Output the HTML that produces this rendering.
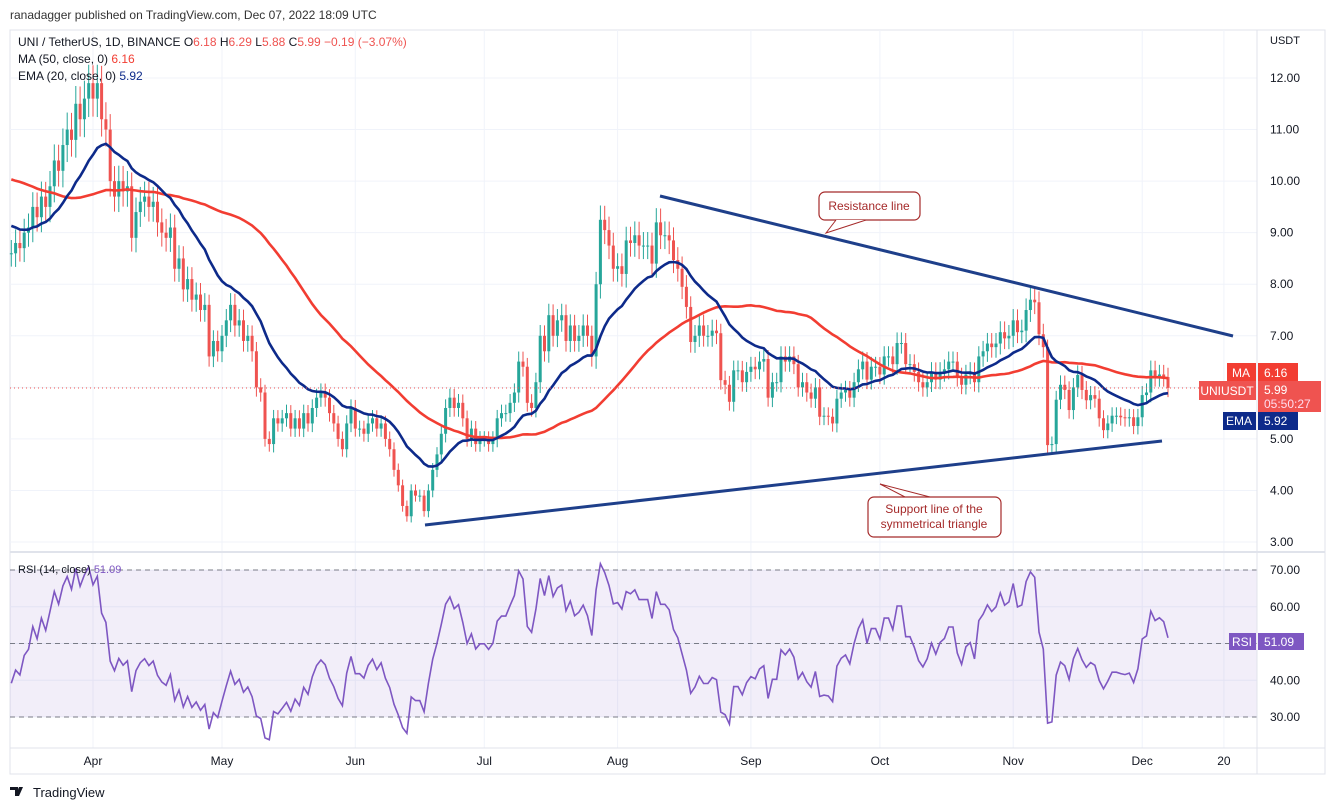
<!DOCTYPE html>
<html><head><meta charset="utf-8">
<style>
html,body{margin:0;padding:0;background:#fff;width:1336px;height:810px;overflow:hidden}
svg{display:block;font-family:"Liberation Sans",sans-serif}
</style></head>
<body>
<svg id="chart" width="1336" height="810" viewBox="0 0 1336 810" xmlns="http://www.w3.org/2000/svg">
<rect x="0" y="0" width="1336" height="810" fill="#ffffff"/>
<text x="10" y="19" font-size="12" fill="#333">ranadagger published on TradingView.com, Dec 07, 2022 18:09 UTC</text>
<rect x="10" y="30" width="1315" height="744" fill="none" stroke="#e0e3eb" stroke-width="1"/>
<g id="grid"></g>
<rect x="10" y="570" width="1247" height="147" fill="#7e57c2" fill-opacity="0.1"/>
<g id="rsiLines"></g>
<g id="candles"></g>
<path id="maLine" fill="none" stroke="#f23d32" stroke-width="2.6"/>
<path id="emaLine" fill="none" stroke="#0d2a8a" stroke-width="2.6"/>
<path id="rsiLine" fill="none" stroke="#7e57c2" stroke-width="1.6"/>
<line x1="10" y1="388" x2="1257" y2="388" stroke="#ef5350" stroke-width="1" stroke-dasharray="1,3"/>
<line x1="660" y1="196" x2="1233" y2="336" stroke="#1e3f8a" stroke-width="3"/>
<line x1="425" y1="525" x2="1162" y2="441" stroke="#1e3f8a" stroke-width="3"/>
<g>
<rect x="819" y="192" width="101" height="28" rx="6" fill="#fff" stroke="#a52a2a" stroke-width="1.2"/>
<path d="M836,220 L826,233 L866,220" fill="#fff" stroke="#a52a2a" stroke-width="1"/>
<text x="869" y="210" font-size="12" fill="#a52a2a" text-anchor="middle">Resistance line</text>
</g>
<g>
<path d="M905,497 L880,484 L930,497" fill="#fff" stroke="#a52a2a" stroke-width="1"/>
<rect x="868" y="497" width="133" height="40" rx="6" fill="#fff" stroke="#a52a2a" stroke-width="1.2"/>
<text x="934" y="513" font-size="12" fill="#a52a2a" text-anchor="middle">Support line of the</text>
<text x="934" y="528" font-size="12" fill="#a52a2a" text-anchor="middle">symmetrical triangle</text>
</g>
<line x1="1257" y1="30" x2="1257" y2="774" stroke="#e0e3eb"/>
<line x1="10" y1="552" x2="1325" y2="552" stroke="#e0e3eb" stroke-width="2"/>
<line x1="10" y1="748" x2="1325" y2="748" stroke="#e0e3eb"/>
<g id="axes"></g>
<text x="1270" y="44" font-size="11" fill="#131722">USDT</text>
<text x="18" y="46" font-size="12" fill="#131722">UNI / TetherUS, 1D, BINANCE  <tspan>O</tspan><tspan fill="#ef5350">6.18</tspan> <tspan>H</tspan><tspan fill="#ef5350">6.29</tspan> <tspan>L</tspan><tspan fill="#ef5350">5.88</tspan> <tspan>C</tspan><tspan fill="#ef5350">5.99</tspan> <tspan fill="#ef5350">−0.19 (−3.07%)</tspan></text>
<text x="18" y="63" font-size="12" fill="#131722">MA (50, close, 0) <tspan fill="#f23d32">6.16</tspan></text>
<text x="18" y="80" font-size="12" fill="#131722">EMA (20, close, 0) <tspan fill="#0d2a8a">5.92</tspan></text>
<text x="18" y="573" font-size="11" fill="#131722">RSI (14, close) <tspan fill="#7e57c2">51.09</tspan></text>
<g>
<rect x="1227" y="363" width="29" height="19" fill="#f23d32"/><text x="1241" y="377" font-size="12" fill="#fff" text-anchor="middle">MA</text>
<rect x="1258" y="363" width="40" height="19" fill="#f23d32"/><text x="1264" y="377" font-size="12" fill="#fff">6.16</text>
</g>
<g>
<rect x="1199" y="381" width="57" height="19" fill="#ef5350"/><text x="1227" y="395" font-size="12" fill="#fff" text-anchor="middle">UNIUSDT</text>
<rect x="1258" y="381" width="63" height="31" fill="#ef5350"/><text x="1264" y="394" font-size="12" fill="#fff">5.99</text><text x="1264" y="408" font-size="12" fill="#fde">05:50:27</text>
</g>
<g>
<rect x="1223" y="412" width="33" height="18" fill="#0d2a8a"/><text x="1239" y="425" font-size="12" fill="#fff" text-anchor="middle">EMA</text>
<rect x="1258" y="412" width="40" height="18" fill="#0d2a8a"/><text x="1264" y="425" font-size="12" fill="#fff">5.92</text>
</g>
<g>
<rect x="1229" y="633" width="27" height="17" fill="#7e57c2"/><text x="1242" y="646" font-size="12" fill="#fff" text-anchor="middle">RSI</text>
<rect x="1258" y="633" width="46" height="17" fill="#7e57c2"/><text x="1264" y="646" font-size="12" fill="#fff">51.09</text>
</g>
<g>
<path d="M10,787 h8 v9 h-3 v-6 h-5 z M19,787 h4 l-4,9 h-3 z" fill="#131722"/>
<circle cx="19.5" cy="789" r="1.3" fill="#131722"/>
<text x="33" y="797" font-size="13" fill="#131722">TradingView</text>
</g>
</svg>
<script>
// Daily closes, Mar 13 2022 -> Dec 7 2022
const closes = [
8.6,8.8,8.7,9.0,9.1,9.5,9.3,9.7,9.5,9.9,10.4,10.2,10.7,11.0,10.8,11.5,11.2,11.6,11.9,
11.6,11.9,11.2,11.0,10.0,9.7,10.0,9.8,9.9,8.9,9.4,9.6,9.7,9.5,9.6,9.2,9.0,8.9,9.1,8.3,8.5,7.9,8.1,7.7,7.8,7.5,7.6,6.6,6.9,6.7,
7.0,7.3,7.6,7.2,7.3,6.9,7.0,6.7,6.0,5.9,5.0,4.9,5.4,5.3,5.4,5.5,5.2,5.4,5.2,5.5,5.3,5.6,5.8,5.9,5.8,5.5,5.3,5.0,4.8,5.3,5.6,
5.2,5.2,5.1,5.3,5.4,5.2,5.3,5.0,4.8,4.4,4.1,3.7,3.5,4.0,3.9,3.9,3.6,4.0,4.4,4.7,5.1,5.6,5.8,5.6,5.7,5.4,5.0,5.2,4.9,5.0,
5.0,4.9,5.0,5.4,5.5,5.5,5.7,5.9,6.5,6.4,5.7,5.6,6.1,7.0,6.7,7.4,7.0,7.3,7.4,6.9,7.2,6.9,7.0,7.2,7.0,6.6,8.0,9.25,9.05,8.75,8.3,
8.35,8.2,8.85,8.8,8.95,8.75,8.75,8.75,8.4,9.2,8.95,8.95,8.85,8.47,8.3,7.95,7.56,6.88,7.0,7.2,7.0,7.0,7.1,7.05,6.14,6.05,5.72,6.33,6.33,6.1,6.3,
6.4,6.35,6.5,6.55,5.8,6.1,6.1,6.6,6.5,6.6,6.45,6.0,6.1,5.9,5.78,6.0,5.43,5.45,5.43,5.3,5.78,5.9,5.95,5.8,6.1,6.35,6.5,6.15,6.4,6.4,
6.25,6.6,6.6,6.45,6.86,6.86,6.45,6.45,6.3,6.1,6.0,6.1,6.3,6.15,6.3,6.35,6.5,6.5,6.2,6.05,6.25,6.3,6.1,6.6,6.7,6.85,6.78,6.85,7.07,6.95,7.0,
7.3,7.07,7.1,7.5,7.7,7.65,7.03,6.78,4.88,4.9,5.76,6.05,5.95,5.56,6.0,6.24,5.95,5.75,5.85,5.78,5.4,5.17,5.3,5.45,5.45,5.42,5.4,5.42,5.25,5.42,
5.85,5.9,6.33,6.2,6.25,6.2,5.99];
// Closes before the visible window (warm-up for MA/EMA/RSI)
const priorCloses = [10.5,10.2,9.8,10.4,10.8,11.0,11.2,11.0,10.7,10.9,11.4,11.8,12.1,11.9,11.6,11.3,10.9,10.5,10.8,10.6,10.4,10.0,9.6,9.9,10.2,9.8,9.5,9.2,9.6,9.9,10.3,10.1,9.8,9.6,9.9,10.2,9.8,9.4,9.1,9.3,9.5,9.0,8.8,9.1,9.0,8.7,8.6,8.8,8.5,8.6];
const priceTicks = [3,4,5,6,7,8,9,10,11,12];
const rsiTicks = [30,40,50,60,70];
const monthLabels = ["Apr","May","Jun","Jul","Aug","Sep","Oct","Nov","Dec","20"];
const monthIndex = [19,49,80,110,141,172,202,233,263,282];

const NS="http://www.w3.org/2000/svg";
const xS = i => 93 + (i-19)*4.3;
const yP = p => 78 + (12-p)*51.56;
const yR = r => 570 + (70-r)*3.675;
function mk(tag, attrs, parent){const e=document.createElementNS(NS,tag);for(const k in attrs)e.setAttribute(k,attrs[k]);parent.appendChild(e);return e;}

const grid=document.getElementById('grid'), axes=document.getElementById('axes');
priceTicks.forEach(p=>{
  const l=mk('line',{x1:10,x2:1257,y1:yP(p),y2:yP(p),stroke:'#f0f3fa'},grid);
  
  
  const t=mk('text',{x:1270,y:yP(p)+4,'font-size':12,fill:'#131722'},axes);
  
  
  t.textContent=p.toFixed(2);
});
rsiTicks.forEach(r=>{
  const l=mk('line',{x1:10,x2:1257,y1:yR(r),y2:yR(r),stroke:'#f0f3fa'},grid);
  
  
  const t=mk('text',{x:1270,y:yR(r)+4,'font-size':12,fill:'#131722'},axes);
  
  
  t.textContent=r.toFixed(2);
});
monthLabels.forEach((m,k)=>{
  const x=xS(monthIndex[k]);
  const l=mk('line',{x1:x,x2:x,y1:30,y2:748,stroke:'#f0f3fa'},grid);
  
  
  const t=mk('text',{x:x,y:765,'font-size':12,fill:'#131722','text-anchor':'middle'},axes);
  
  
  t.textContent=m;
});
const rl=document.getElementById('rsiLines');
[70,50,30].forEach(r=>{
  const l=mk('line',{x1:10,x2:1257,y1:yR(r),y2:yR(r),stroke:'#787b86','stroke-dasharray':'5,4','stroke-width':1},rl);
  
  
});

// candles
const cg=document.getElementById('candles');
let prev=priorCloses[priorCloses.length-1];
closes.forEach((c,i)=>{
  const o=prev; prev=c;
  const up=c>=o, col=up?'#26a69a':'#ef5350';
  const w=0.03*c;
  const hi=Math.max(o,c)+w, lo=Math.min(o,c)-w;
  const x=xS(i);
  const g=mk('g',{},cg);
  
  
  mk('line',{x1:x,x2:x,y1:yP(hi),y2:yP(lo),stroke:col,'stroke-width':1},g);
  const top=yP(Math.max(o,c)), h=Math.max(1,yP(Math.min(o,c))-top);
  mk('rect',{x:x-1.5,y:top,width:3,height:h,fill:col},g);
});

// indicators
const all=priorCloses.concat(closes), off=priorCloses.length;
let ma='',ema='',rs='';
let e=all.slice(0,20).reduce((a,b)=>a+b,0)/20;
for(let j=20;j<off;j++) e=all[j]*2/21+e*19/21;
let ag=0,al=0;
for(let j=1;j<=14;j++){const d=all[j]-all[j-1];if(d>0)ag+=d;else al-=d;}
ag/=14;al/=14;
for(let j=15;j<off;j++){const d=all[j]-all[j-1];ag=(ag*13+Math.max(d,0))/14;al=(al*13+Math.max(-d,0))/14;}
for(let i=0;i<closes.length;i++){
  const j=i+off;
  let s=0;for(let k=j-49;k<=j;k++)s+=all[k];
  const m=s/50;
  e=all[j]*2/21+e*19/21;
  const d=all[j]-all[j-1];ag=(ag*13+Math.max(d,0))/14;al=(al*13+Math.max(-d,0))/14;
  const r=al===0?100:100-100/(1+ag/al);
  const x=xS(i).toFixed(1);
  ma+=(i?'L':'M')+x+','+yP(m).toFixed(1);
  ema+=(i?'L':'M')+x+','+yP(e).toFixed(1);
  rs+=(i?'L':'M')+x+','+yR(r).toFixed(1);
}
document.getElementById('maLine').setAttribute('d',ma);
document.getElementById('emaLine').setAttribute('d',ema);
document.getElementById('rsiLine').setAttribute('d',rs);
</script>
</body></html>
